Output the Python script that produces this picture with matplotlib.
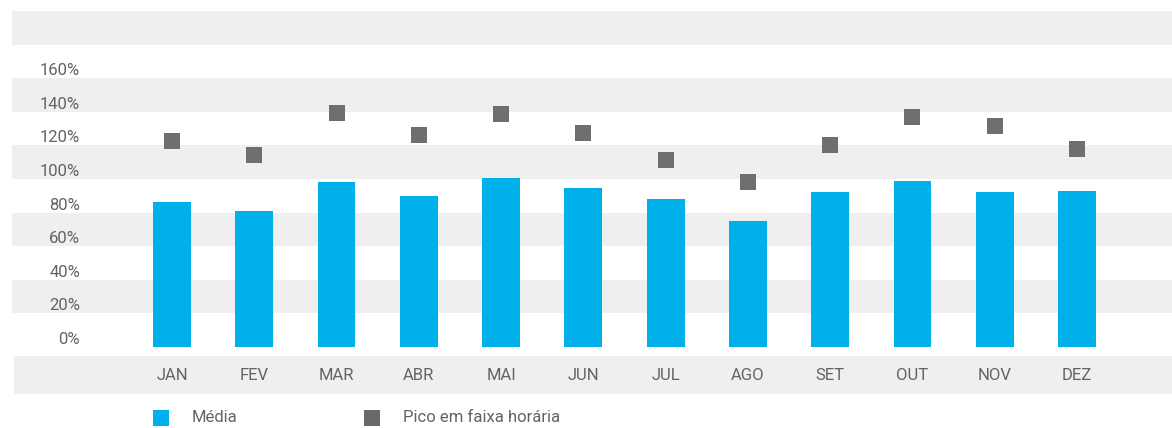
import matplotlib
matplotlib.use("Agg")
import matplotlib.pyplot as plt
from matplotlib.patches import Rectangle

# ---- data ----
months = ["JAN", "FEV", "MAR", "ABR", "MAI", "JUN", "JUL", "AGO", "SET", "OUT", "NOV", "DEZ"]
media = [86.3, 81.0, 98.2, 89.9, 100.6, 94.6, 88.1, 75.0, 92.3, 98.8, 92.3, 92.9]
pico = [122.6, 114.3, 139.3, 126.2, 138.7, 127.4, 111.3, 98.2, 120.2, 136.9, 131.5, 117.9]
ytick_values = [0, 20, 40, 60, 80, 100, 120, 140, 160]
ytick_labels = ["0%", "20%", "40%", "60%", "80%", "100%", "120%", "140%", "160%"]
legend_labels = ["Média", "Pico em faixa horária"]

BLUE = "#00b0ea"
GRAY_SQ = "#6f6f6f"
GRAY_LEG = "#666a6d"
BAND = "#efefef"
TXT = "#636363"
FONT = "Roboto"
FS = 12

W, H = 1172, 428
fig = plt.figure(figsize=(W / 100, H / 100), dpi=100)
fig.patch.set_facecolor("white")

def fx(px):
    return px / W

def fy(py):
    return 1 - py / H

# main plot axes (pixel box 12..1172 x 11..347)
ax = fig.add_axes([fx(12), fy(347), fx(1172 - 12), (347 - 11) / H])
ax.set_xlim(-1.944, 12.154)
ax.set_ylim(0, 200)
ax.axis("off")

for lo in range(20, 200, 40):
    ax.axhspan(lo, lo + 20, color=BAND, lw=0, zorder=0)

x = list(range(len(months)))
ax.bar(x, media, width=0.46, color=BLUE, zorder=2, linewidth=0)
ax.scatter(x, pico, marker="s", s=(16 * 0.72) ** 2, color=GRAY_SQ, linewidths=0, zorder=3)

ytrans = ax.get_yaxis_transform()
for v, lab in zip(ytick_values, ytick_labels):
    ax.text((80 - 12) / (1172 - 12), v + 1.8, lab, transform=ytrans, ha="right",
            va="baseline", fontsize=FS, color=TXT, family=FONT)

# x label band
ax2 = fig.add_axes([fx(14), fy(393.7), fx(1172 - 14), (393.7 - 355.7) / H])
ax2.set_xlim(-1.92, 12.154)
ax2.set_ylim(0, 1)
ax2.set_facecolor(BAND)
for s in ax2.spines.values():
    s.set_visible(False)
ax2.set_xticks([])
ax2.set_yticks([])
for xi, m in zip(x, months):
    ax2.text(xi, 0.48, m, ha="center", va="center", fontsize=FS, color=TXT, family=FONT)

# legend
for (sx, tx), lab, col in zip([(153, 192), (364, 403)], legend_labels, [BLUE, GRAY_LEG]):
    fig.add_artist(Rectangle((fx(sx), fy(426)), 16 / W, 16 / H, transform=fig.transFigure,
                             color=col, lw=0))
    fig.text(fx(tx), fy(418), lab, ha="left", va="center", fontsize=FS, color=TXT, family=FONT)

fig.savefig("out.png", dpi=100, facecolor="white")
